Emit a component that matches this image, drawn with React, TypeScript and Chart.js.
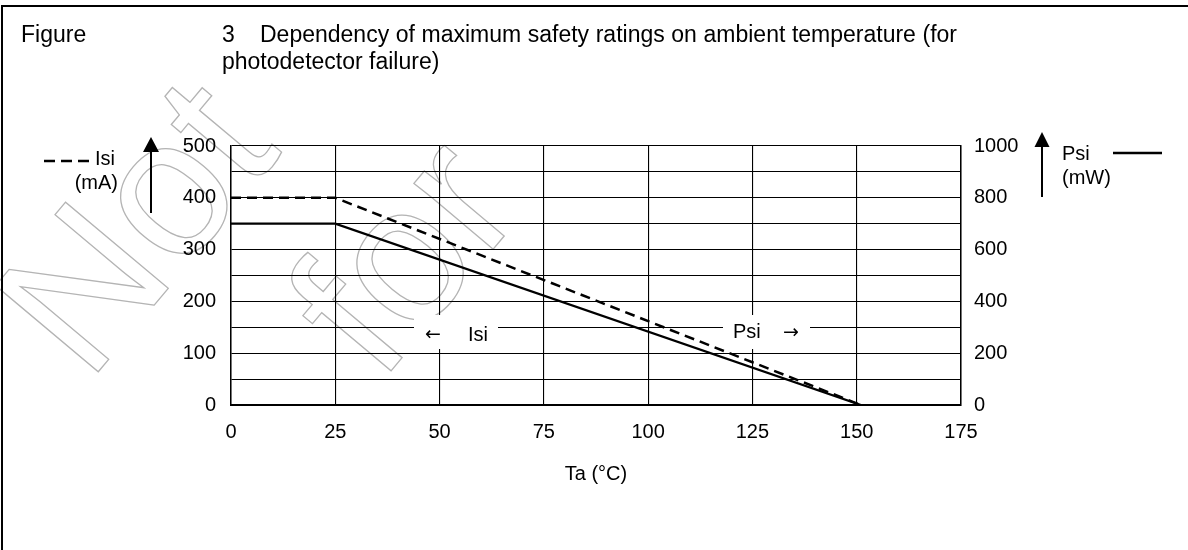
import React, { useEffect, useRef } from "react";
import { Chart, registerables } from "chart.js";

Chart.register(...registerables);

const FONT = '"Liberation Sans", Arial, Helvetica, sans-serif';
const ARROW_FONT = '"DejaVu Sans", "Liberation Sans", sans-serif';

// ---- data ----
const temperatureC = [0, 25, 151];
const isiMilliamps = [400, 400, 0];
const psiMilliwatts = [700, 700, 0];

const isiTickLabels = [0, 100, 200, 300, 400, 500];
const psiTickLabels = [0, 200, 400, 600, 800, 1000];

const figureWord = "Figure";
const figureNumber = "3";
const titleLine1 = "Dependency of maximum safety ratings on ambient temperature (for";
const titleLine2 = "photodetector failure)";
const xAxisTitle = "Ta (°C)";
const isiName = "Isi";
const isiUnit = "(mA)";
const psiName = "Psi";
const psiUnit = "(mW)";
const watermarkLines = ["Not", "for"];

const W = 1188;
const H = 550;

function drawArrowUp(ctx: CanvasRenderingContext2D, x: number, tip: number, base: number, bottom: number, half: number) {
  ctx.save();
  ctx.strokeStyle = "#000";
  ctx.fillStyle = "#000";
  ctx.lineWidth = 2;
  ctx.beginPath();
  ctx.moveTo(x, bottom);
  ctx.lineTo(x, base);
  ctx.stroke();
  ctx.beginPath();
  ctx.moveTo(x, tip);
  ctx.lineTo(x - half, base);
  ctx.lineTo(x + half, base);
  ctx.closePath();
  ctx.fill();
  ctx.restore();
}

function drawJustified(ctx: CanvasRenderingContext2D, text: string, x0: number, x1: number, y: number) {
  const words = text.split(" ");
  const widths = words.map((w) => ctx.measureText(w).width);
  const total = widths.reduce((a, b) => a + b, 0);
  const gap = (x1 - x0 - total) / (words.length - 1);
  let x = x0;
  words.forEach((w, i) => {
    ctx.fillText(w, x, y);
    x += widths[i] + gap;
  });
}

const decorPlugin = {
  id: "decor",
  beforeDraw(chart: any) {
    const ctx: CanvasRenderingContext2D = chart.ctx;
    ctx.save();
    ctx.fillStyle = "#fff";
    ctx.fillRect(0, 0, W, H);

    // watermark (outlined text)
    ctx.strokeStyle = "#b4b4b4";
    ctx.lineWidth = 1.3;
    ctx.font = `195px ${FONT}`;
    ctx.textBaseline = "alphabetic";
    ctx.textAlign = "left";
    const starts = [
      [88, 384],
      [380, 384],
    ];
    watermarkLines.forEach((t, i) => {
      ctx.save();
      ctx.translate(starts[i][0], starts[i][1]);
      ctx.rotate((-50 * Math.PI) / 180);
      ctx.strokeText(t, 0, 0);
      ctx.restore();
    });

    // frame
    ctx.strokeStyle = "#000";
    ctx.lineWidth = 2;
    ctx.beginPath();
    ctx.moveTo(2, H);
    ctx.lineTo(2, 6);
    ctx.lineTo(W, 6);
    ctx.stroke();
    ctx.restore();
  },
  beforeDatasetsDraw(chart: any) {
    const ctx: CanvasRenderingContext2D = chart.ctx;
    ctx.save();
    ctx.fillStyle = "#fff";
    ctx.fillRect(414, 315, 84, 34);
    ctx.fillRect(723, 315, 87, 34);
    ctx.fillStyle = "#000";
    ctx.textBaseline = "alphabetic";
    ctx.textAlign = "left";
    ctx.font = `19px ${ARROW_FONT}`;
    ctx.fillText("←", 425, 340);
    ctx.fillText("→", 783, 338);
    ctx.font = `20px ${FONT}`;
    ctx.fillText(isiName, 468, 341);
    ctx.fillText(psiName, 733, 338);
    ctx.restore();
  },
  afterDraw(chart: any) {
    const ctx: CanvasRenderingContext2D = chart.ctx;
    ctx.save();
    ctx.fillStyle = "#000";
    ctx.textBaseline = "alphabetic";
    ctx.textAlign = "left";
    ctx.font = `23px ${FONT}`;
    ctx.fillText(figureWord, 21, 42);
    ctx.fillText(figureNumber, 222, 42);
    drawJustified(ctx, titleLine1, 260, 957, 42);
    ctx.fillText(titleLine2, 222, 69);

    ctx.font = `20px ${FONT}`;
    // left legend
    ctx.strokeStyle = "#000";
    ctx.lineWidth = 2.5;
    ctx.setLineDash([11, 6]);
    ctx.beginPath();
    ctx.moveTo(44, 161);
    ctx.lineTo(92, 161);
    ctx.stroke();
    ctx.setLineDash([]);
    ctx.fillText(isiName, 95, 165);
    ctx.textAlign = "right";
    ctx.fillText(isiUnit, 118, 189);
    ctx.textAlign = "left";
    drawArrowUp(ctx, 151, 137, 152, 213, 8);

    // right legend
    drawArrowUp(ctx, 1042, 132, 147, 197, 7.5);
    ctx.fillText(psiName, 1062, 160);
    ctx.fillText(psiUnit, 1062, 184);
    ctx.lineWidth = 2.5;
    ctx.beginPath();
    ctx.moveTo(1113, 153);
    ctx.lineTo(1162, 153);
    ctx.stroke();
    ctx.restore();
  },
};

export default function App() {
  const canvasRef = useRef<HTMLCanvasElement | null>(null);

  useEffect(() => {
    document.body.style.margin = "0";
    const canvas = canvasRef.current;
    if (!canvas) return;
    const tickFont = { family: FONT, size: 20 };
    const chart = new Chart(canvas, {
      type: "line",
      data: {
        datasets: [
          {
            label: isiName,
            data: temperatureC.map((x, i) => ({ x, y: isiMilliamps[i] })),
            yAxisID: "y",
            borderColor: "#000",
            borderWidth: 2.5,
            borderDash: [10, 6],
            pointRadius: 0,
            fill: false,
            tension: 0,
          },
          {
            label: psiName,
            data: temperatureC.map((x, i) => ({ x, y: psiMilliwatts[i] })),
            yAxisID: "y2",
            borderColor: "#000",
            borderWidth: 2.3,
            pointRadius: 0,
            fill: false,
            tension: 0,
          },
        ],
      },
      options: {
        animation: false,
        responsive: false,
        devicePixelRatio: 1,
        layout: { padding: { top: 146, left: 0, right: 0, bottom: 0 } },
        plugins: { legend: { display: false }, tooltip: { enabled: false } },
        scales: {
          x: {
            type: "linear",
            min: 0,
            max: 175,
            ticks: { stepSize: 25, padding: 15, color: "#000", font: tickFont, autoSkip: false, maxRotation: 0 },
            grid: { color: "#000", lineWidth: 1.1, drawTicks: false },
            border: { color: "#000", width: 2 },
            title: {
              display: true,
              text: xAxisTitle,
              color: "#000",
              font: tickFont,
              padding: { top: 0, bottom: 64 },
            },
            afterFit: (s: any) => {
              s.height = 145;
            },
          },
          y: {
            type: "linear",
            position: "left",
            min: 0,
            max: 500,
            ticks: {
              stepSize: 50,
              padding: 15,
              color: "#000",
              font: tickFont,
              autoSkip: false,
              callback: (v: any) => (isiTickLabels.includes(Number(v)) ? String(v) : ""),
            },
            grid: { color: "#000", lineWidth: 1.1, drawTicks: false },
            border: { color: "#000", width: 1.5 },
            afterFit: (s: any) => {
              s.width = 231;
            },
          },
          y2: {
            type: "linear",
            position: "right",
            min: 0,
            max: 1000,
            ticks: {
              stepSize: 100,
              padding: 13,
              color: "#000",
              font: tickFont,
              autoSkip: false,
              callback: (v: any) => (psiTickLabels.includes(Number(v)) ? String(v) : ""),
            },
            grid: { display: false, drawTicks: false },
            border: { color: "#000", width: 1.5 },
            afterFit: (s: any) => {
              s.width = 227;
            },
          },
        },
      },
      plugins: [decorPlugin],
    } as any);
    return () => chart.destroy();
  }, []);

  return (
    <div style={{ position: "absolute", left: 0, top: 0, width: W, height: H }}>
      <canvas ref={canvasRef} width={W} height={H} style={{ display: "block" }} />
    </div>
  );
}
